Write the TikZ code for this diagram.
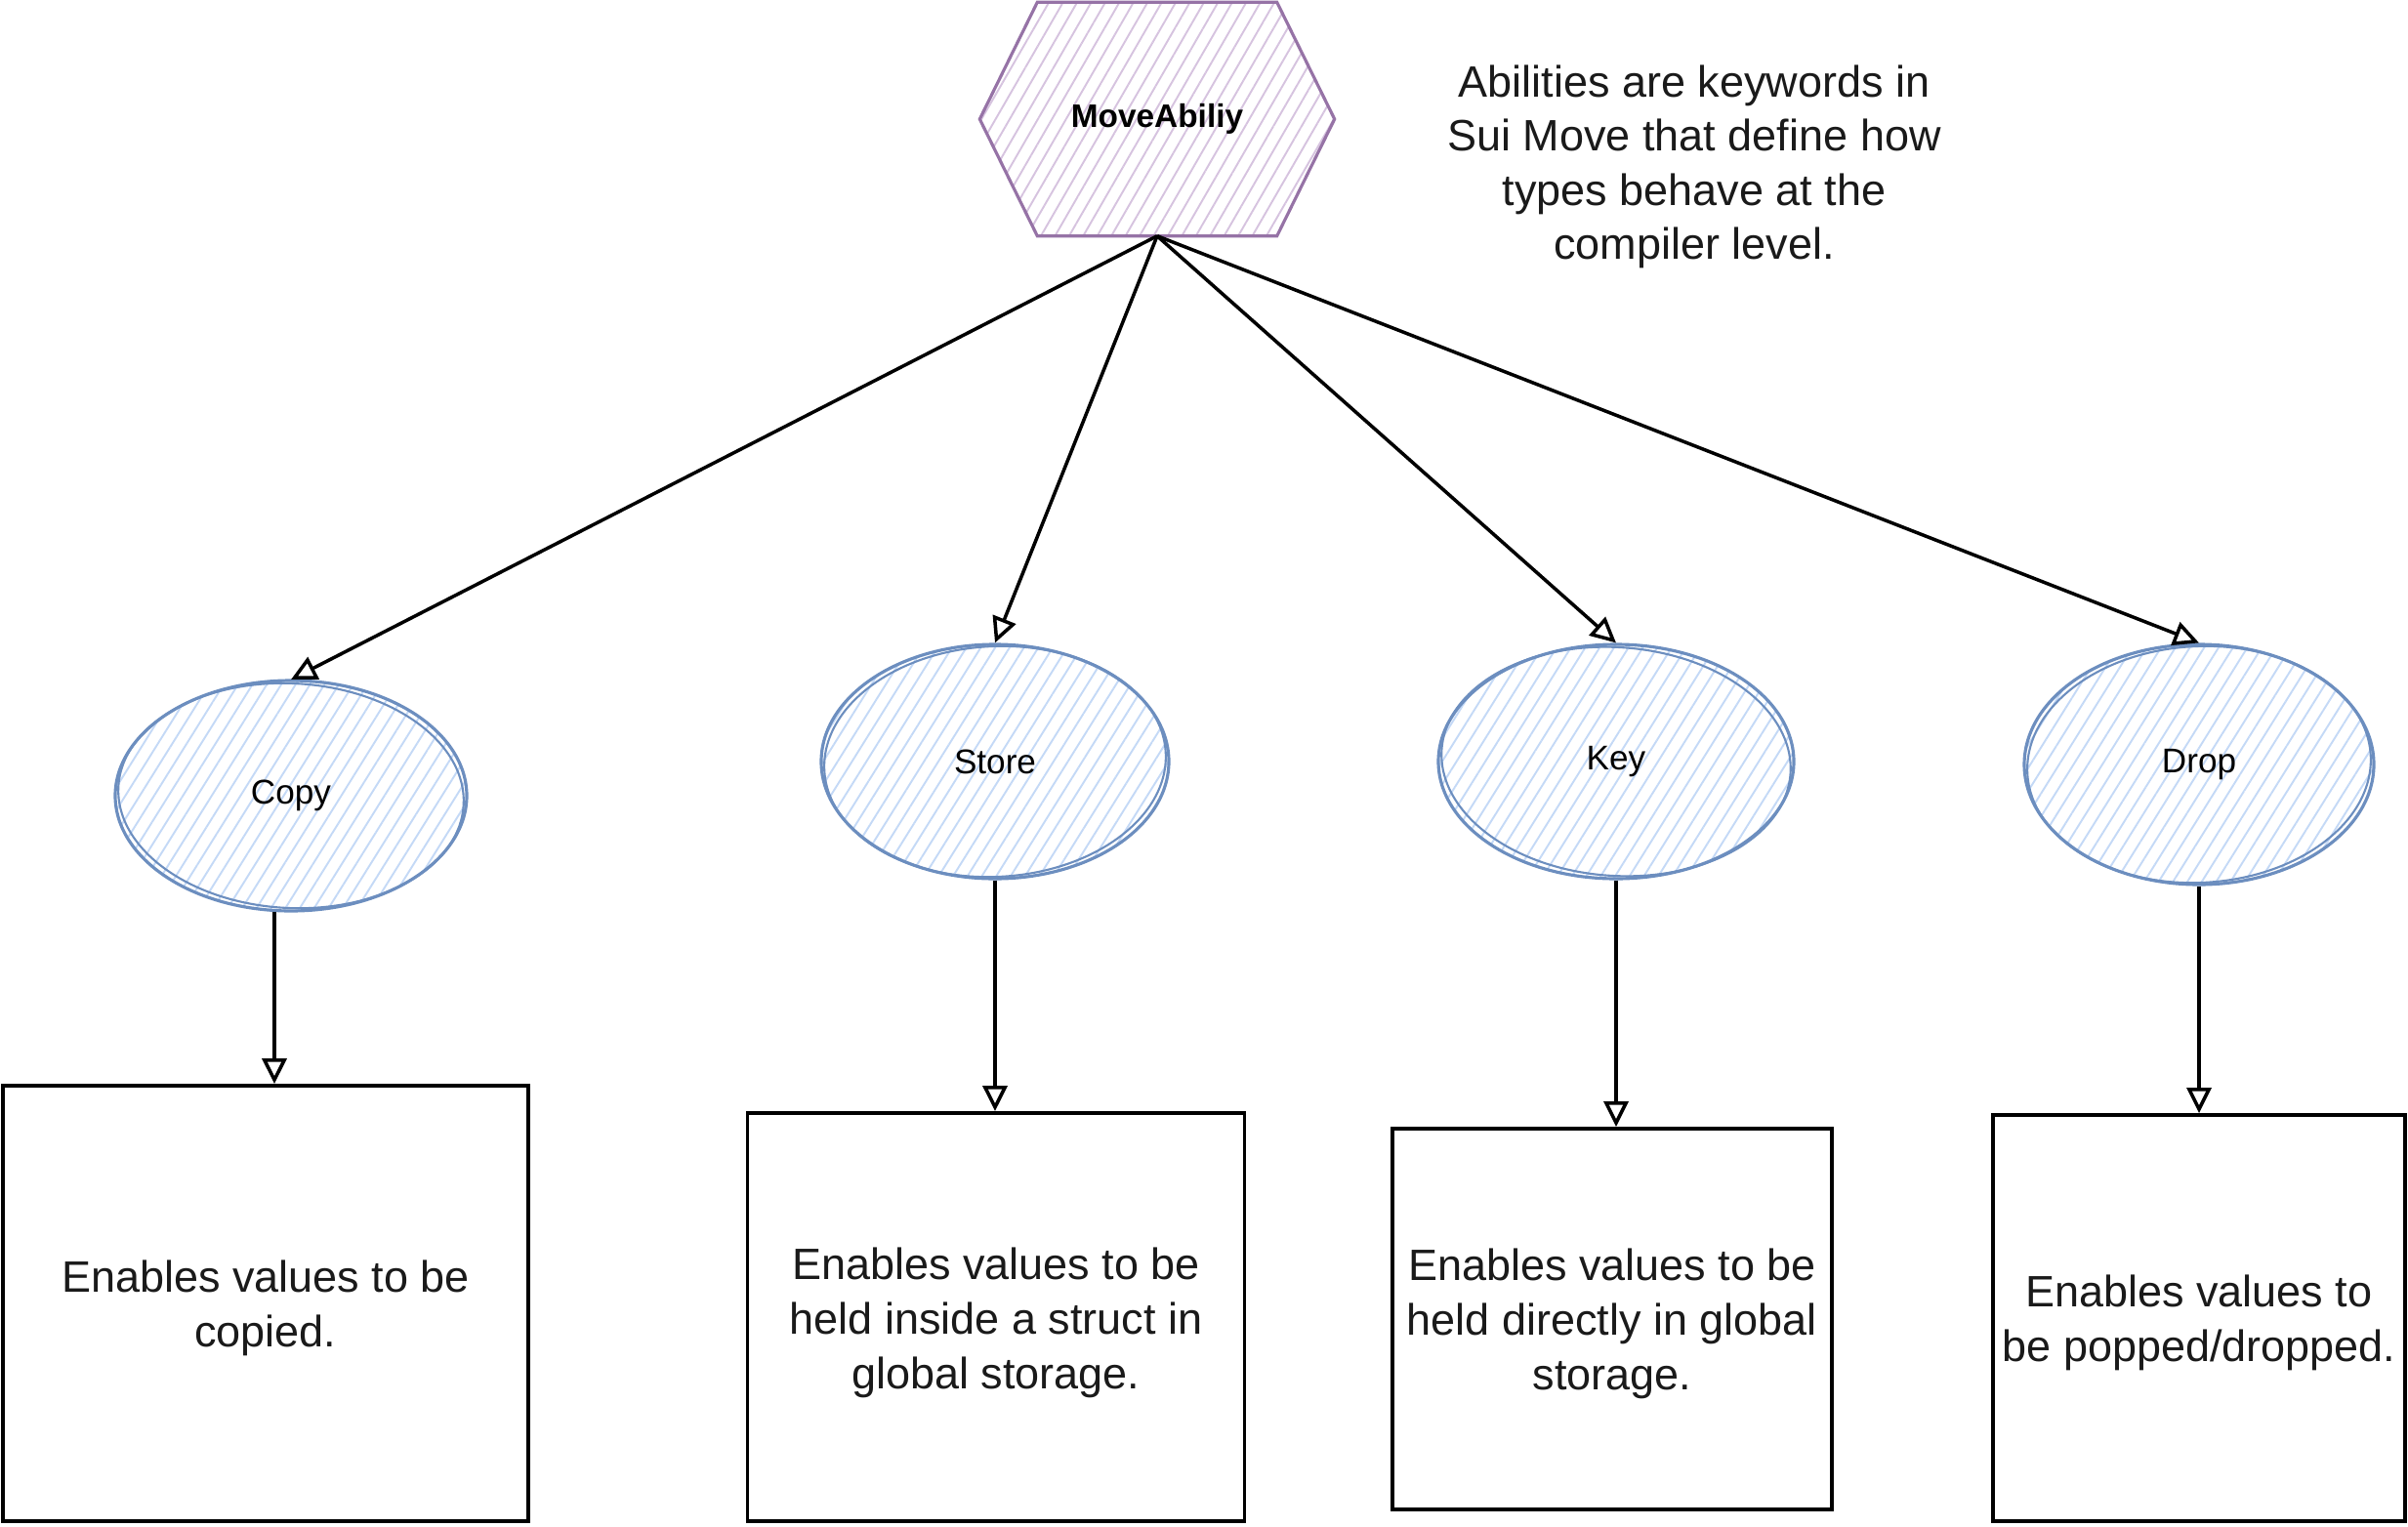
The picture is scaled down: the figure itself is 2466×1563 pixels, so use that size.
\documentclass[tikz,border=0pt]{standalone}
\usepackage{fontspec}
\setmainfont{Liberation Sans}
\usetikzlibrary{arrows.meta,patterns.meta,shapes.geometric,backgrounds}
\definecolor{ebstroke}{HTML}{6C8EBF}
\definecolor{ebfill}{HTML}{C4D9F6}
\definecolor{hxstroke}{HTML}{9673A6}
\definecolor{hxfill}{HTML}{D6C3DF}
\definecolor{txt}{HTML}{1A1A1A}
\begin{document}
\begin{tikzpicture}[x=0.1mm,y=-0.1mm,
  ell/.style={ellipse, draw=ebstroke, line width=0.9pt,
    pattern={Lines[angle=58,distance=1.25mm,line width=0.55pt]}, pattern color=ebfill,
    inner sep=0pt, font=\fontsize{10}{12}\selectfont, text=black},
  ring/.style={draw=ebstroke, line width=0.6pt},
  desc/.style={rectangle, draw=black, line width=1.1pt, inner sep=0pt},
  desctext/.style={align=center, text=txt, font=\fontsize{12.8}{15.9}\selectfont, inner sep=0pt},
  conn/.style={draw=black, line width=1pt, -{Triangle[open,length=2.6mm,width=2.5mm]}},
  hexst/.style={draw=hxstroke, line width=0.9pt,
    pattern={Lines[angle=60,distance=1.25mm,line width=0.55pt]}, pattern color=hxfill},
  note/.style={align=center, text=txt, font=\fontsize{12.8}{15.8}\selectfont, inner sep=0pt}
  ]
\useasboundingbox (0,0) rectangle (2466,1563);

% hexagon
\node[rectangle, minimum width=36.2mm, minimum height=23.8mm, inner sep=0pt,
      font=\bfseries\fontsize{9.5}{11}\selectfont, text=black] (hex) at (1185,122) {MoveAbiliy};
\begin{scope}[on background layer]
\path[hexst] (hex.west) -- ([xshift=5.9mm]hex.north west) -- ([xshift=-5.9mm]hex.north east)
  -- (hex.east) -- ([xshift=-5.9mm]hex.south east) -- ([xshift=5.9mm]hex.south west) -- cycle;
\end{scope}

% note
\node[note] (note) at (1735,171) {Abilities are keywords in\\Sui Move that define how\\types behave at the\\compiler level.};

% ellipses
\node[ell, minimum width=36mm, minimum height=23.6mm] (copy) at (298,815) {Copy};
\node[ell, minimum width=35.6mm, minimum height=24mm] (store) at (1019,780) {Store};
\node[ell, minimum width=36.4mm, minimum height=24mm] (key) at (1655,780) {Key};
\node[ell, minimum width=35.8mm, minimum height=24.6mm] (drop) at (2252,783) {Drop};

% sketchy second strokes
\draw[ring, rotate around={-3:(copy.center)}] (copy.center) ellipse [x radius=17.7mm, y radius=11.5mm];
\draw[ring, rotate around={3:(store.center)}] (store.center) ellipse [x radius=17.5mm, y radius=11.8mm];
\draw[ring, rotate around={-4:(key.center)}] (key.center) ellipse [x radius=17.9mm, y radius=11.7mm];
\draw[ring, rotate around={3:(drop.center)}] (drop.center) ellipse [x radius=17.6mm, y radius=12.1mm];

% boxes
\node[desc, minimum width=53.8mm, minimum height=44.6mm] (copybox) at (272,1335) {};
\node[desctext] (copytext) at ([yshift=-0.5mm]copybox.center) {Enables values to be\\copied.};
\node[desc, minimum width=50.9mm, minimum height=41.8mm] (storebox) at (1020,1349) {};
\node[desctext] (storetext) at ([yshift=-0.6mm]storebox.center) {Enables values to be\\held inside a struct in\\global storage.};
\node[desc, minimum width=45mm, minimum height=39mm] (keybox) at (1651,1351) {};
\node[desctext] (keytext) at ([yshift=-0.5mm]keybox.center) {Enables values to be\\held directly in global\\storage.};
\node[desc, minimum width=42.2mm, minimum height=41.6mm] (dropbox) at (2252,1350) {};
\node[desctext] (droptext) at ([yshift=-0.5mm]dropbox.center) {Enables values to\\be popped/dropped.};

% connectors
\draw[conn] (hex.south) -- (copy.north);
\draw[conn] (hex.south) -- (store.north);
\draw[conn] (hex.south) -- (key.north);
\draw[conn] (hex.south) -- (drop.north);

\draw[conn] ([xshift=-1.7mm]copy.south) -- ([xshift=-1.7mm]copy.south |- copybox.north);
\draw[conn] (store.south) -- (store.south |- storebox.north);
\draw[conn] (key.south) -- (key.south |- keybox.north);
\draw[conn] (drop.south) -- (drop.south |- dropbox.north);
\end{tikzpicture}
\end{document}
